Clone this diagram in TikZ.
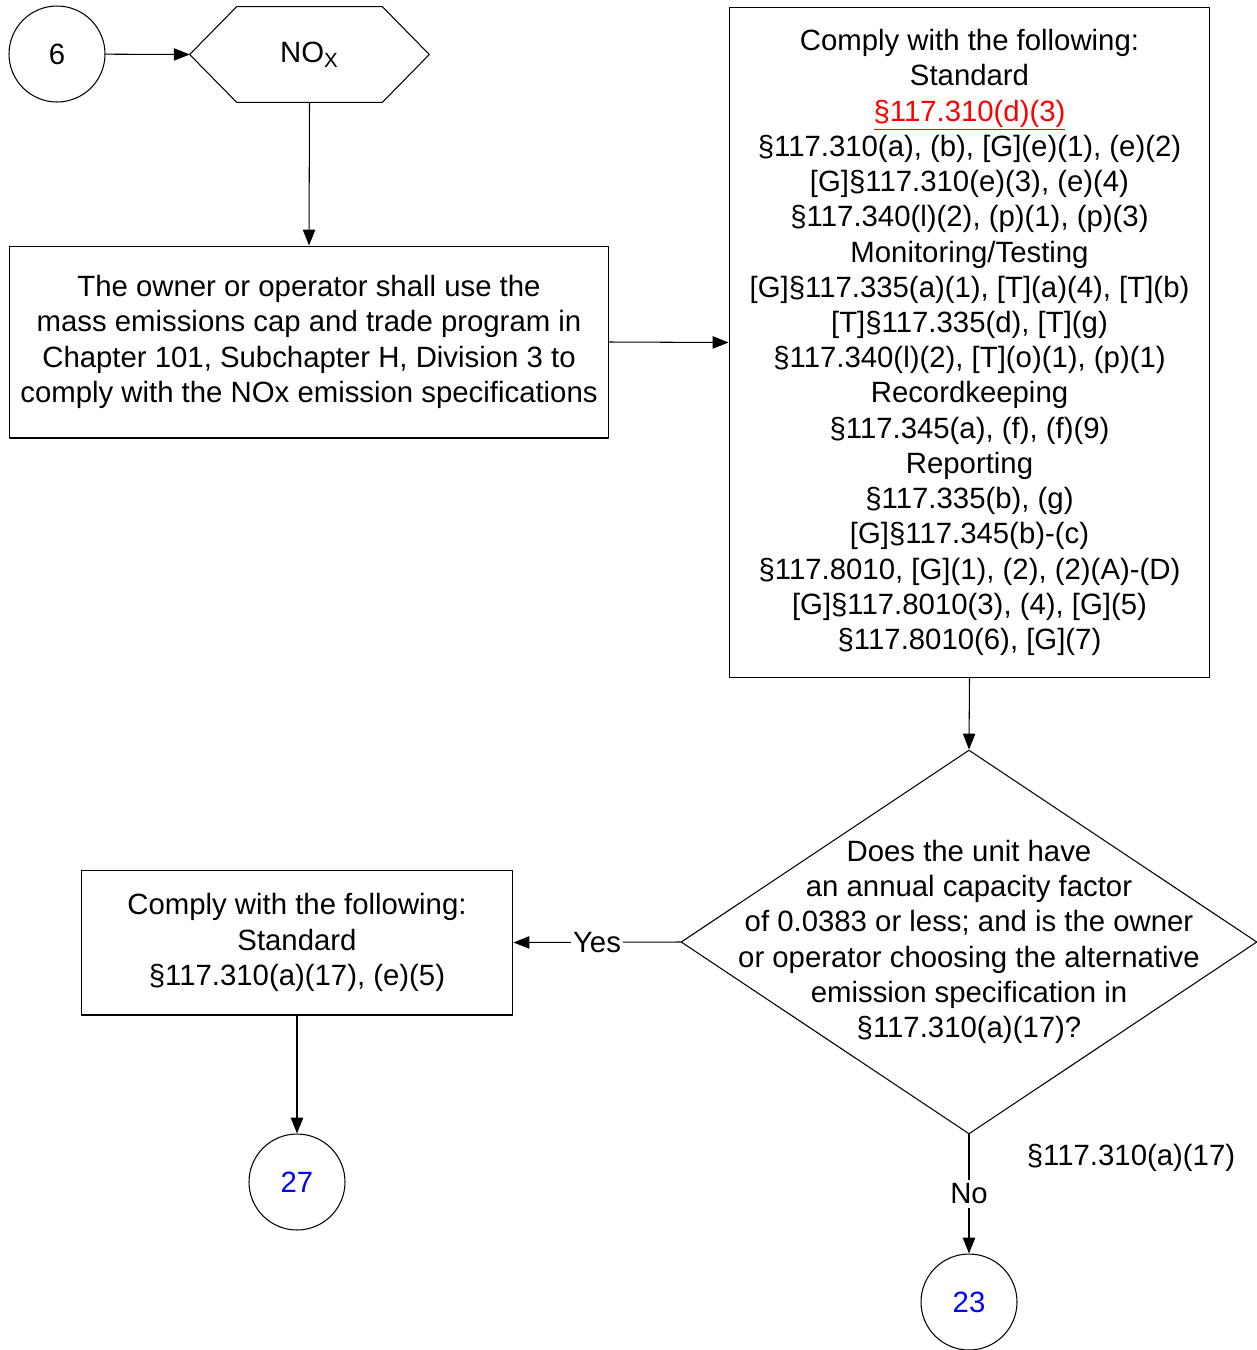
\documentclass[tikz,border=0pt]{standalone}
\usepackage{fontspec}
\setmainfont{Liberation Sans}
\usepackage{tikz}
\usetikzlibrary{calc}
\usetikzlibrary{arrows.meta}
\usetikzlibrary{shapes.geometric}
\definecolor{ffqqqq}{rgb}{1.,0.,0.}
\definecolor{qqqqff}{rgb}{0.,0.,1.}
\tikzset{every node/.style={font=\fontsize{16.7}{20.05}\selectfont,align=center,inner sep=0pt}}
\tikzset{conn/.style={->,line width=0.6pt}}
\tikzset{boxnode/.style={draw,line width=0.6pt,rectangle}}
\tikzset{pagecircle/.style={draw,line width=0.6pt,circle,minimum size=1.92cm}}

\begin{document}
\begin{tikzpicture}[line cap=round,line join=round,>={Triangle[length=9pt,width=7pt]},x=0.02cm,y=-0.02cm]
            \useasboundingbox (0,0) rectangle (1257,1350);
            \node [pagecircle] (c6) at (57,54) {6};
            \node [minimum width=4.78cm,minimum height=1.9cm] (nox) at (309.5,54.5) {NO\textsubscript{X}};
            \draw [line width=0.6pt] (nox.west) -- ($(nox.north west)+(47,0)$) -- ($(nox.north east)+(-47,0)$) -- (nox.east) -- ($(nox.south east)+(-47,0)$) -- ($(nox.south west)+(47,0)$) -- cycle;
            \node [boxnode,minimum width=12cm,minimum height=3.84cm] (own) at (309,342) {The owner or operator shall use the\\mass emissions cap and trade program in\\Chapter 101, Subchapter H, Division 3 to\\comply with the NOx emission specifications};
            \node [boxnode,minimum width=9.62cm,minimum height=13.42cm] (reqs) at (969.5,342.5) {Comply with the following:\\Standard\\\textcolor{ffqqqq}{\underline{§117.310(d)(3)}}\\§117.310(a), (b), [G](e)(1), (e)(2)\\{}[G]§117.310(e)(3), (e)(4)\\§117.340(l)(2), (p)(1), (p)(3)\\Monitoring/Testing\\{}[G]§117.335(a)(1), [T](a)(4), [T](b)\\{}[T]§117.335(d), [T](g)\\§117.340(l)(2), [T](o)(1), (p)(1)\\Recordkeeping\\§117.345(a), (f), (f)(9)\\Reporting\\§117.335(b), (g)\\{}[G]§117.345(b)-(c)\\§117.8010, [G](1), (2), (2)(A)-(D)\\{}[G]§117.8010(3), (4), [G](5)\\§117.8010(6), [G](7)};
            \node [draw,line width=0.6pt,diamond,minimum width=11.52cm,minimum height=7.68cm] (dec) at (969,942) {};
            \node (q) at (969,942) {Does the unit have\\an annual capacity factor\\of 0.0383 or less; and is the owner\\or operator choosing the alternative\\emission specification in\\§117.310(a)(17)?};
            \node [boxnode,minimum width=8.64cm,minimum height=2.9cm] (alt) at (297,942.5) {Comply with the following:\\Standard\\§117.310(a)(17), (e)(5)};
            \node [pagecircle,text=qqqqff] (c27) at (297,1182) {27};
            \node [pagecircle,text=qqqqff] (c23) at (969,1302) {23};
            \node (cite) at (1131,1158) {§117.310(a)(17)};
            \draw [conn] (c6) -- (nox.west);
            \draw [conn] (nox.south) -- (own.north);
            \draw [conn] (own.east) -- (reqs.west);
            \draw [conn] (reqs.south) -- (dec.north);
            \draw [conn] (dec.west) -- node [fill=white,inner sep=1pt] {Yes} (alt.east);
            \draw [conn] (alt.south) -- (c27.north);
            \draw [conn] (dec.south) -- node [fill=white,inner sep=2pt] {No} (c23.north);
\end{tikzpicture}
\end{document}
